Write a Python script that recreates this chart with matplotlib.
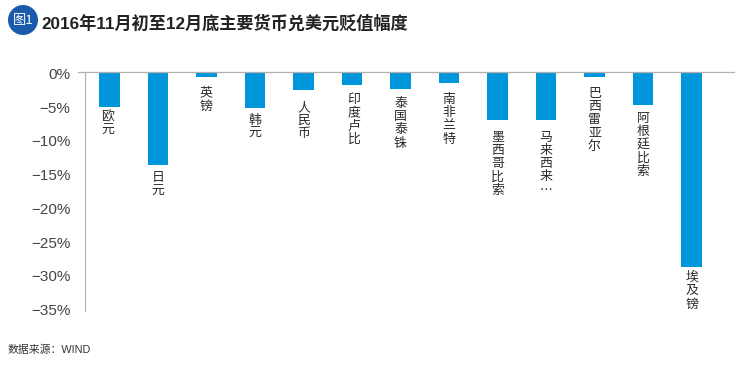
import matplotlib
matplotlib.use("Agg")
import matplotlib.pyplot as plt
from matplotlib.patches import Ellipse
from matplotlib.transforms import ScaledTranslation

W, H = 755, 370
LATIN_CJK = ["Liberation Sans", "Noto Sans CJK SC", "DejaVu Sans"]
plt.rcParams["font.family"] = LATIN_CJK

title = "2016年11月初至12月底主要货币兑美元贬值幅度"
badge = "图1"
source = "数据来源：WIND"
categories = ["欧元", "日元", "英镑", "韩元", "人民币", "印度卢比", "泰国泰铢", "南非兰特",
              "墨西哥比索", "马来西来…", "巴西雷亚尔", "阿根廷比索", "埃及镑"]
values = [-5.15, -13.8, -0.7, -5.3, -2.65, -1.9, -2.5, -1.6, -7.05, -7.05, -0.7, -4.85, -28.9]
label_gaps = [3, 5, 9, 5, 10, 7, 7, 9, 10, 10, 9, 6, 3]
label_shifts = [-2, 0, -1, 0, 0, 2, 0, 0, 0, 0, 0, 0, 0]
y_ticks = [0, -5, -10, -15, -20, -25, -30, -35]
y_tick_labels = ["0%", "−5%", "−10%", "−15%", "−20%", "−25%", "−30%", "−35%"]

BLUE = "#0096dc"
GREY = "#b0b0b0"
TEXT = "#2b2b2b"

fig = plt.figure(figsize=(W / 100, H / 100), dpi=100, facecolor="white")

# axes box in pixels: left 78, right 734, zero line at y=72, bottom at y=312
ax = fig.add_axes([78 / W, 1 - 312 / H, (734 - 78) / W, (312 - 72) / H])
step = 48.5
ax.set_xlim(-(109.5 - 78) / step, (734 - 109.5) / step)
ax.set_ylim(-35.6, 0)

ax.bar(range(len(values)), values, width=0.42, color=BLUE, linewidth=0, zorder=2)

for s in ("top", "right", "bottom", "left"):
    ax.spines[s].set_visible(False)
ax.axhline(0, color=GREY, lw=0.9, zorder=3, clip_on=False)
ax.axvline(-0.495, color=GREY, lw=0.8, zorder=1)
ax.set_xticks([])
ax.set_yticks(y_ticks)
ax.set_yticklabels(y_tick_labels, fontsize=11, color="#444444", va="center")
ax.tick_params(axis="y", length=0, pad=5.5)
for lab in ax.get_yticklabels():
    lab.set_transform(lab.get_transform() + ScaledTranslation(0, -3 / 100, fig.dpi_scale_trans))

for i, (name, v, gap, shift) in enumerate(zip(categories, values, label_gaps, label_shifts)):
    ax.annotate("\n".join(name), xy=(i, v), xytext=(shift * 0.72, -(gap + 1) * 0.72),
                textcoords="offset points", ha="center", va="top", fontsize=9.3, color=TEXT,
                linespacing=1.03, family=["Noto Sans CJK SC", "DejaVu Sans"])

fig.add_artist(Ellipse((23 / W, 1 - 20 / H), 30 / W, 30 / H, transform=fig.transFigure,
                       facecolor="#1a5cab", edgecolor="none"))
fig.text(23 / W, 1 - 20.5 / H, badge, color="white", fontsize=9.5, ha="center", va="center",
         family=["Noto Sans CJK SC", "DejaVu Sans"])
fig.text(41 / W, 1 - 23 / H, title, color="#222222", fontsize=12.35, fontweight="bold",
         ha="left", va="center", family=["Liberation Sans", "Noto Sans CJK SC"])
fig.text(8 / W, 1 - 350 / H, source, color="#333333", fontsize=7.8, ha="left", va="center")

fig.savefig("out.png", dpi=100, facecolor="white")
